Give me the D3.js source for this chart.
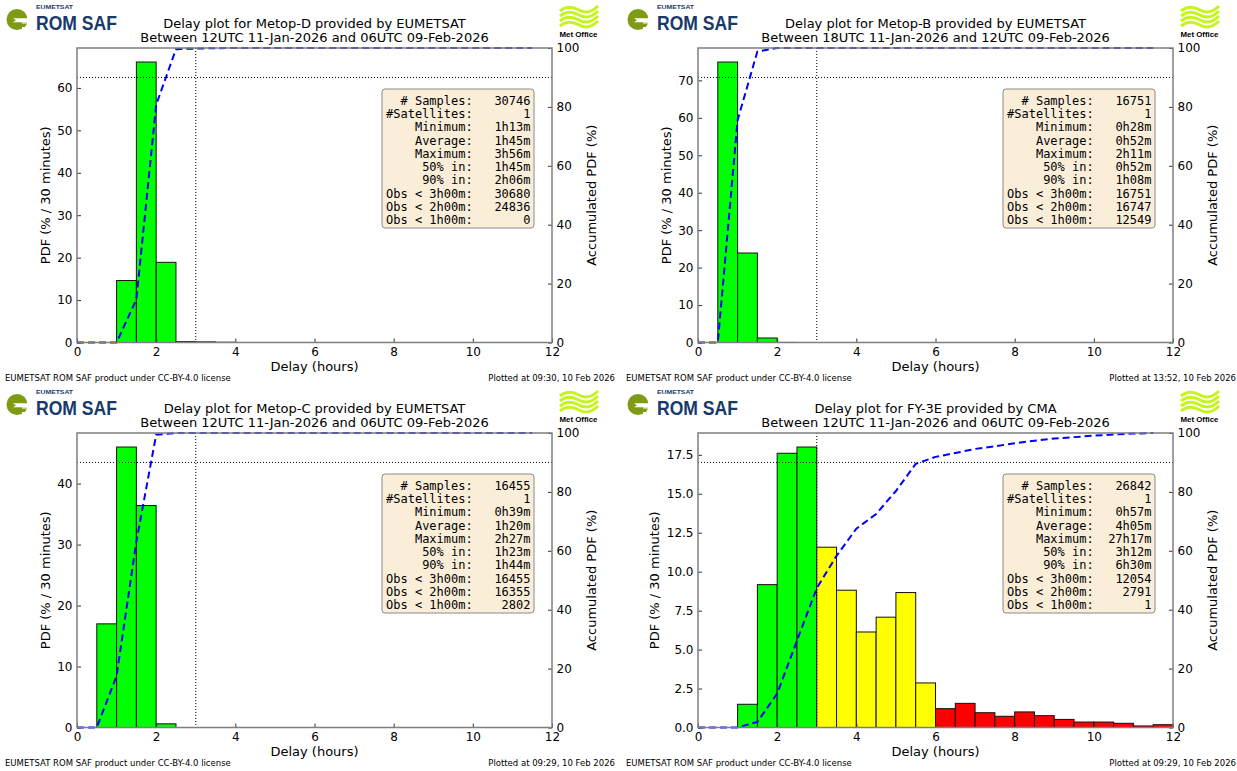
<!DOCTYPE html>
<html><head><meta charset="utf-8">
<script src="https://cdn.jsdelivr.net/npm/d3@7"></script>
<style>
body{margin:0;background:#fff}
svg{display:block}
</style>
</head><body>
<svg id="c" width="1237" height="771" font-family="DejaVu Sans, sans-serif"></svg>
<script>
// ---------- data ----------
const binStarts = [0,0.5,1,1.5,2,2.5,3,3.5,4,4.5,5,5.5,6,6.5,7,7.5,8,8.5,9,9.5,10,10.5,11,11.5];
const xTicks = [0,2,4,6,8,10,12];
const cdfTicks = [0,20,40,60,80,100];

const metopD_pdf = [0,0,14.6,66.1,18.9,0.2,0.15,0.06,0,0,0,0,0,0,0,0,0,0,0,0,0,0,0,0];
const metopD_cdf = [0,0,0,14.6,80.7,99.6,99.8,99.94,100,100,100,100,100,100,100,100,100,100,100,100,100,100,100,100];
const metopD_yTicks = [0,10,20,30,40,50,60];
const metopD_stats = ["30746","1","1h13m","1h45m","3h56m","1h45m","2h06m","30680","24836","0"];

const metopB_pdf = [0,74.9,23.9,1.2,0.02,0,0,0,0,0,0,0,0,0,0,0,0,0,0,0,0,0,0,0];
const metopB_cdf = [0,0,75.5,98.8,99.98,100,100,100,100,100,100,100,100,100,100,100,100,100,100,100,100,100,100,100];
const metopB_yTicks = [0,10,20,30,40,50,60,70];
const metopB_stats = ["16751","1","0h28m","0h52m","2h11m","0h52m","1h08m","16751","16747","12549"];

const metopC_pdf = [0,17.0,46.0,36.4,0.6,0,0,0,0,0,0,0,0,0,0,0,0,0,0,0,0,0,0,0];
const metopC_cdf = [0,0,17.5,63.2,99.4,100,100,100,100,100,100,100,100,100,100,100,100,100,100,100,100,100,100,100];
const metopC_yTicks = [0,10,20,30,40];
const metopC_stats = ["16455","1","0h39m","1h20m","2h27m","1h23m","1h44m","16455","16355","2802"];

const fy3e_pdf = [0,0,1.49,9.17,17.6,18.0,11.57,8.81,6.13,7.08,8.66,2.86,1.21,1.55,0.95,0.72,1.0,0.76,0.52,0.35,0.35,0.27,0.1,0.18];
const fy3e_cdf = [0,0,0,1.9,11.5,29.5,47.3,58.3,67.5,72.5,80.3,89.5,91.9,93.2,94.6,95.5,96.5,97.4,98.1,98.6,99.1,99.5,99.8,100];
const fy3e_yTicks = [0,2.5,5,7.5,10,12.5,15,17.5];
const fy3e_stats = ["26842","1","0h57m","4h05m","27h17m","3h12m","6h30m","12054","2791","1"];

const statLabels = ["# Samples:","#Satellites:","Minimum:","Average:","Maximum:","50% in:","90% in:","Obs < 3h00m:","Obs < 2h00m:","Obs < 1h00m:"];

const panels = [
  {title:"Delay plot for Metop-D provided by EUMETSAT", period:"Between 12UTC 11-Jan-2026 and 06UTC 09-Feb-2026", plotted:"Plotted at 09:30, 10 Feb 2026", pdf:metopD_pdf, cdf:metopD_cdf, yTicks:metopD_yTicks, fmt:d3.format("d"), stats:metopD_stats},
  {title:"Delay plot for Metop-B provided by EUMETSAT", period:"Between 18UTC 11-Jan-2026 and 12UTC 09-Feb-2026", plotted:"Plotted at 13:52, 10 Feb 2026", pdf:metopB_pdf, cdf:metopB_cdf, yTicks:metopB_yTicks, fmt:d3.format("d"), stats:metopB_stats},
  {title:"Delay plot for Metop-C provided by EUMETSAT", period:"Between 12UTC 11-Jan-2026 and 06UTC 09-Feb-2026", plotted:"Plotted at 09:29, 10 Feb 2026", pdf:metopC_pdf, cdf:metopC_cdf, yTicks:metopC_yTicks, fmt:d3.format("d"), stats:metopC_stats},
  {title:"Delay plot for FY-3E provided by CMA", period:"Between 12UTC 11-Jan-2026 and 06UTC 09-Feb-2026", plotted:"Plotted at 09:29, 10 Feb 2026", pdf:fy3e_pdf, cdf:fy3e_cdf, yTicks:fy3e_yTicks, fmt:d3.format(".1f"), stats:fy3e_stats}
];

// ---------- drawing ----------
const svg = d3.select("#c");
const M = {l:77, r:552, t:48, b:342.5};
const spine = "#7f7f7f";
const SANS = "DejaVu Sans, sans-serif";
const MONO = "DejaVu Sans Mono, monospace";
const ARIAL = "Liberation Sans, Arial, sans-serif";

function romsaf(g){
  const lg = g.append("g");
  lg.append("circle").attr("cx",17).attr("cy",19.5).attr("r",10.5).attr("fill","#7e9b13");
  lg.append("path").attr("d","M13,18.3 L29,18.3 L29,22.3 L13,22.3 L16,20.3 Z").attr("fill","#fff");
  lg.append("path").attr("d","M22,22.3 L29,22.3 L29,31 L22,31 Z").attr("fill","#fff");
  lg.append("path").attr("d","M19,23.5 L27,23.5 L25,27 L19,27 Z").attr("fill","#7e9b13");
  lg.append("text").attr("x",36).attr("y",8.5).style("font-family",ARIAL)
    .attr("font-weight","bold").attr("font-size",6).attr("textLength",37).attr("lengthAdjust","spacingAndGlyphs")
    .attr("fill","#173a6b").text("EUMETSAT");
  lg.append("text").attr("x",36).attr("y",29.5).style("font-family",ARIAL)
    .attr("font-weight","bold").attr("font-size",19.5).attr("textLength",81).attr("lengthAdjust","spacingAndGlyphs")
    .attr("fill","#173a6b").text("ROM SAF");
}
function metoffice(g){
  const lg = g.append("g");
  for(let k=0;k<4;k++){
    const y0 = 9 + k*5;
    lg.append("path").attr("d",`M560,${y0+2} C566,${y0-3} 572,${y0-3} 579,${y0+1} C586,${y0+5} 592,${y0+3} 598,${y0-3}`)
      .attr("fill","none").attr("stroke","#c5f51c").attr("stroke-width",3);
  }
  lg.append("text").attr("x",578.5).attr("y",37).attr("text-anchor","middle")
    .style("font-family",ARIAL).attr("font-weight","bold").attr("font-size",7.5)
    .attr("textLength",38).attr("lengthAdjust","spacingAndGlyphs").text("Met Office");
}

panels.forEach((p,i)=>{
  const g = svg.append("g").attr("transform",`translate(${(i%2)*621},${Math.floor(i/2)*385})`);
  const x = d3.scaleLinear().domain([0,12]).range([M.l,M.r]);
  const y = d3.scaleLinear().domain([0,d3.max(p.pdf)*1.05]).range([M.b,M.t]);
  const y2 = d3.scaleLinear().domain([0,100]).range([M.b,M.t]);

  romsaf(g); metoffice(g);

  const cx = (M.l+M.r)/2;
  g.append("text").attr("x",cx).attr("y",28).attr("text-anchor","middle").style("font-family",SANS).attr("font-size",13).text(p.title);
  g.append("text").attr("x",cx).attr("y",42).attr("text-anchor","middle").style("font-family",SANS).attr("font-size",13).text(p.period);

  // bars
  const bars = binStarts.map((s,j)=>({s, v:p.pdf[j]})).filter(d=>d.v>0);
  g.selectAll("rect.bar").data(bars).join("rect").attr("class","bar")
    .attr("x",d=>x(d.s)).attr("width",d=>x(d.s+0.5)-x(d.s))
    .attr("y",d=>y(d.v)).attr("height",d=>y(0)-y(d.v))
    .attr("fill",d=>d.s<3?"#00ff00":(d.s<6?"#ffff00":"#ff0000"))
    .attr("stroke","#111").attr("stroke-width",1);

  // reference dotted lines
  g.append("line").attr("x1",M.l).attr("x2",M.r).attr("y1",y2(90)).attr("y2",y2(90))
    .attr("stroke","#000").attr("stroke-width",1).attr("stroke-dasharray","1,2");
  g.append("line").attr("x1",x(3)).attr("x2",x(3)).attr("y1",M.t).attr("y2",M.b)
    .attr("stroke","#000").attr("stroke-width",1).attr("stroke-dasharray","1,2");

  // cumulative line
  const pts = binStarts.map((s,j)=>({s, c:p.cdf[j]}));
  g.append("path").datum(pts).attr("fill","none").attr("stroke","#0000ff").attr("stroke-width",2)
    .attr("stroke-dasharray","7,4")
    .attr("d",d3.line().x(d=>x(d.s)).y(d=>y2(d.c)));

  // axes
  const ax = g.append("g").attr("transform",`translate(0,${M.b})`)
    .call(d3.axisBottom(x).tickValues(xTicks).tickSizeInner(-4).tickSizeOuter(0).tickPadding(5).tickFormat(d3.format("d")));
  const ayl = g.append("g").attr("transform",`translate(${M.l},0)`)
    .call(d3.axisLeft(y).tickValues(p.yTicks).tickSizeInner(-4).tickSizeOuter(0).tickPadding(4.5).tickFormat(p.fmt));
  const ayr = g.append("g").attr("transform",`translate(${M.r},0)`)
    .call(d3.axisRight(y2).tickValues(cdfTicks).tickSizeInner(-4).tickSizeOuter(0).tickPadding(4.5).tickFormat(d3.format("d")));
  [ax,ayl,ayr].forEach(a=>{
    a.select(".domain").remove();
    a.selectAll("line").attr("stroke","#333");
    a.selectAll("text").attr("font-size",12).attr("font-family",SANS).attr("fill","#000");
  });

  // spines
  g.append("rect").attr("x",M.l).attr("y",M.t).attr("width",M.r-M.l).attr("height",M.b-M.t)
    .attr("fill","none").attr("stroke",spine).attr("stroke-width",1.5);

  // axis labels
  g.append("text").attr("x",cx).attr("y",371).attr("text-anchor","middle").style("font-family",SANS).attr("font-size",13).text("Delay (hours)");
  let minX = 0;
  ayl.selectAll("text").each(function(){ const b=this.getBBox(); minX = Math.min(minX, b.x); });
  const lx = M.l + minX - 12;
  g.append("text").attr("transform",`translate(${lx},${(M.t+M.b)/2}) rotate(-90)`)
    .attr("text-anchor","middle").attr("dominant-baseline","central").style("font-family",SANS).attr("font-size",13).text("PDF (% / 30 minutes)");
  g.append("text").attr("transform",`translate(591,${(M.t+M.b)/2}) rotate(-90)`)
    .attr("text-anchor","middle").attr("dominant-baseline","central").style("font-family",SANS).attr("font-size",13).text("Accumulated PDF (%)");

  // stats box
  const bRight = 534, bW = 152, bTop = 89, bH = 139;
  g.append("rect").attr("x",bRight-bW).attr("y",bTop).attr("width",bW).attr("height",bH).attr("rx",3)
    .attr("fill","rgba(245,222,179,0.5)").attr("stroke","#8a8a8a").attr("stroke-width",1);
  const cw = 12*0.602;
  const valEnd = bRight - 3.5;
  statLabels.forEach((lab,k)=>{
    const yy = 100.8 + k*13.26;
    g.append("text").attr("x",valEnd - 8*cw).attr("y",yy).attr("text-anchor","end").attr("dominant-baseline","central")
      .style("font-family",MONO).attr("font-size",12).text(lab);
    g.append("text").attr("x",valEnd).attr("y",yy).attr("text-anchor","end").attr("dominant-baseline","central")
      .style("font-family",MONO).attr("font-size",12).text(p.stats[k]);
  });

  // footers
  g.append("text").attr("x",5).attr("y",381).style("font-family",SANS).attr("font-size",8.5).text("EUMETSAT ROM SAF product under CC-BY-4.0 license");
  g.append("text").attr("x",615).attr("y",381).attr("text-anchor","end").style("font-family",SANS).attr("font-size",8.5).text(p.plotted);
});
</script>
</body></html>
